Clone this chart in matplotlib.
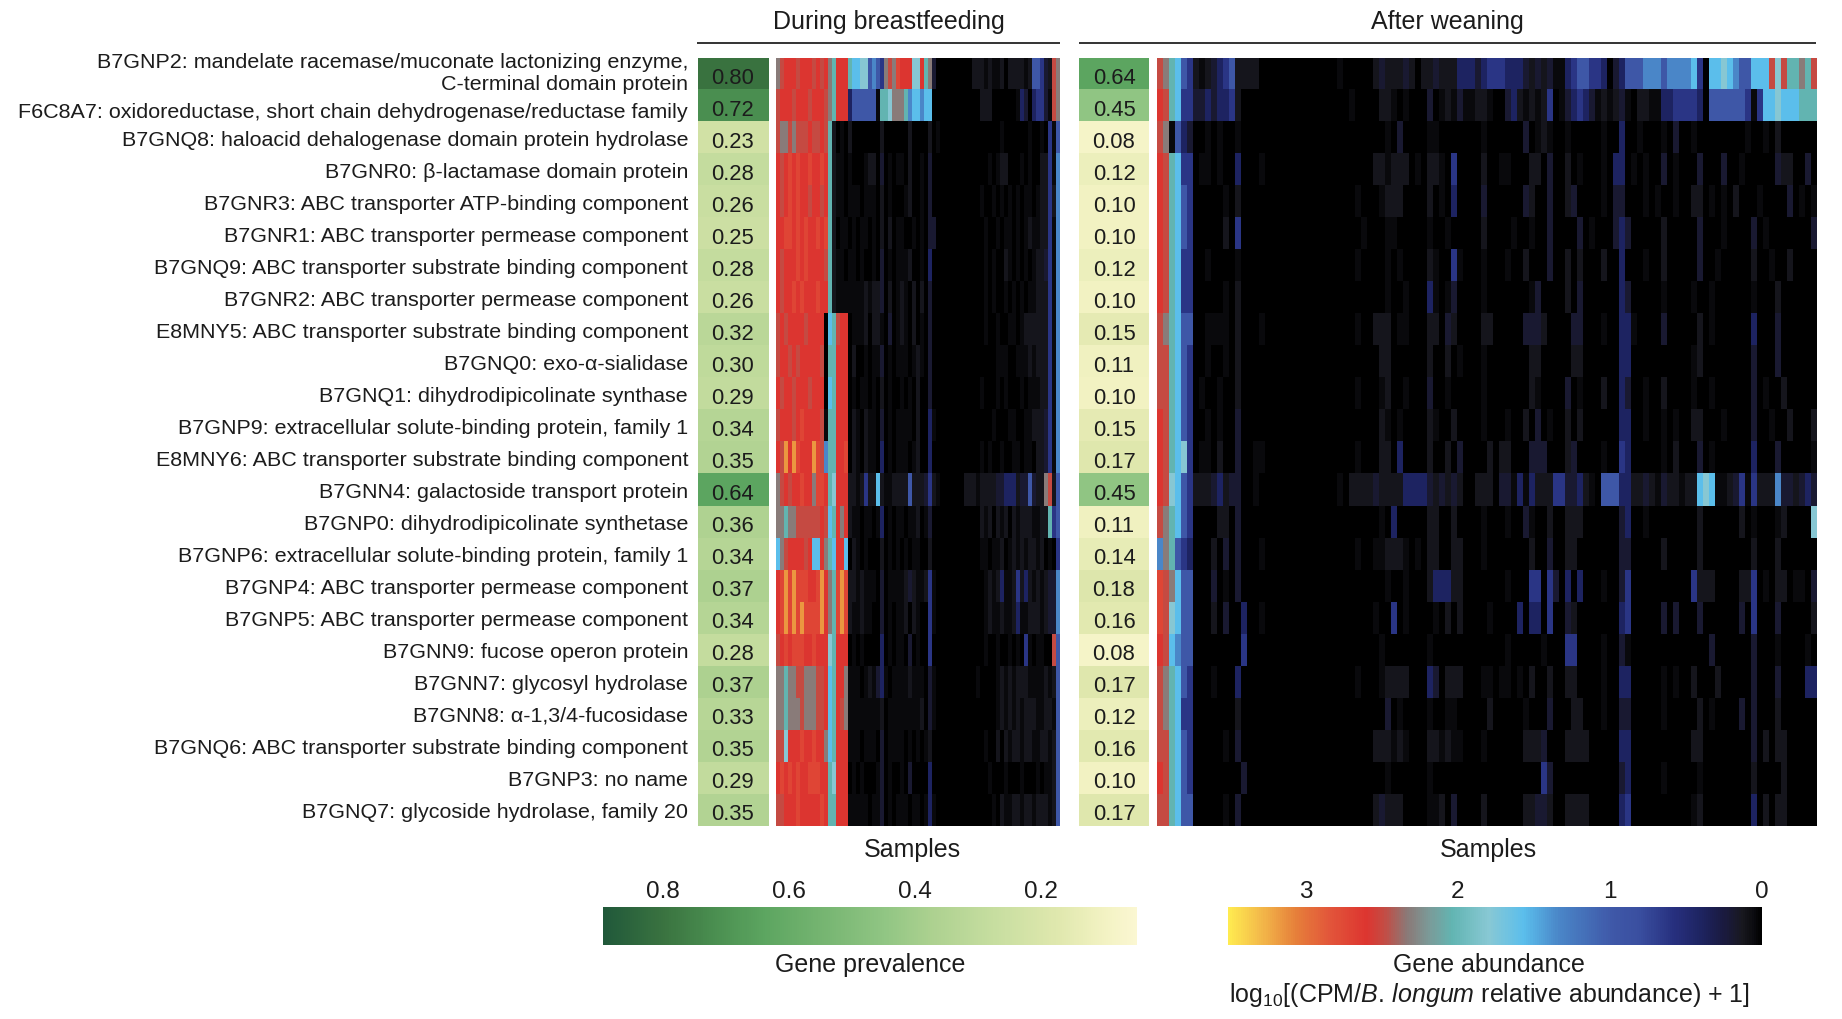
import numpy as np
import matplotlib
matplotlib.use("Agg")
import matplotlib.pyplot as plt
from matplotlib.colors import LinearSegmentedColormap, Normalize
from matplotlib.cm import ScalarMappable

plt.rcParams['font.family'] = ['Liberation Sans', 'DejaVu Sans']
plt.rcParams['mathtext.fontset'] = 'custom'
plt.rcParams['mathtext.rm'] = 'Liberation Sans'
plt.rcParams['mathtext.it'] = 'Liberation Sans:italic'

# ---------- data ----------
gene_labels = [
    "B7GNP2: mandelate racemase/muconate lactonizing enzyme,\nC-terminal domain protein",
    "F6C8A7: oxidoreductase, short chain dehydrogenase/reductase family",
    "B7GNQ8: haloacid dehalogenase domain protein hydrolase",
    "B7GNR0: β-lactamase domain protein",
    "B7GNR3: ABC transporter ATP-binding component",
    "B7GNR1: ABC transporter permease component",
    "B7GNQ9: ABC transporter substrate binding component",
    "B7GNR2: ABC transporter permease component",
    "E8MNY5: ABC transporter substrate binding component",
    "B7GNQ0: exo-α-sialidase",
    "B7GNQ1: dihydrodipicolinate synthase",
    "B7GNP9: extracellular solute-binding protein, family 1",
    "E8MNY6: ABC transporter substrate binding component",
    "B7GNN4: galactoside transport protein",
    "B7GNP0: dihydrodipicolinate synthetase",
    "B7GNP6: extracellular solute-binding protein, family 1",
    "B7GNP4: ABC transporter permease component",
    "B7GNP5: ABC transporter permease component",
    "B7GNN9: fucose operon protein",
    "B7GNN7: glycosyl hydrolase",
    "B7GNN8: α-1,3/4-fucosidase",
    "B7GNQ6: ABC transporter substrate binding component",
    "B7GNP3: no name",
    "B7GNQ7: glycoside hydrolase, family 20",
]
prevalence_during = [0.80, 0.72, 0.23, 0.28, 0.26, 0.25, 0.28, 0.26, 0.32, 0.30, 0.29, 0.34,
                     0.35, 0.64, 0.36, 0.34, 0.37, 0.34, 0.28, 0.37, 0.33, 0.35, 0.29, 0.35]
prevalence_after = [0.64, 0.45, 0.08, 0.12, 0.10, 0.10, 0.12, 0.10, 0.15, 0.11, 0.10, 0.15,
                    0.17, 0.45, 0.11, 0.14, 0.18, 0.16, 0.08, 0.17, 0.12, 0.16, 0.10, 0.17]

# abundance, one character per sample, binned to these levels
abundance_levels = {'0': 0.0, '1': 0.05, '2': 0.11, '3': 0.20, '4': 0.40, '5': 0.63, '6': 0.98,
                    '7': 1.33, '8': 1.57, '9': 1.80, 'a': 2.04, 'b': 2.33, 'c': 2.49, 'd': 2.60,
                    'e': 2.72, 'f': 3.16}

during_rows = [
    "bcdddcdddc dcdbaddda8 8996765bcb eddd99dab3 0000000002 2212112022 221266532c b",
    "cdddcdddcd ddcbaddd46 666661aa9b bba7887880 0000000000 0222000000 143045531c b",
    "cbbcbcccdc cdca201020 0000002000 0002000020 1000000000 0000001000 0001001051 6",
    "dcdededded deda211010 0012203010 1102001030 0000000000 0001012200 0101002251 7",
    "dcdededdcd dcda211011 1011102010 0012001030 0000000000 0100101010 1011012252 7",
    "ddeedededd edea201101 0110102020 1100101033 0000000000 0010010110 1012112251 7",
    "dcdddededd ddca211011 0100103010 1112001040 0000000000 0010100210 1010122351 7",
    "dcddededdd edda211111 1121223020 1210202030 0000000000 0010100101 0101122251 7",
    "cdcddddcdd dd08acdd01 1120221030 1210201030 0000000000 0010010011 0122222251 7",
    "cddcdcdddd dc0aaddd02 0010113010 1110121030 0000000000 0000011100 1112122251 7",
    "dcddcdddcd dd08addd01 0110102010 0101020030 0000000000 0100010100 0101112251 7",
    "cdddcdeddd dc1aaddd02 1021103010 1111020041 0000000000 0000100011 0011222351 7",
    "dcfdfedddf ec7aadde02 1021104010 1110120040 0000000000 0101001001 1011022351 7",
    "bcdcddeddb eeda9ddd22 1252282112 2226222352 1000000222 1222233444 2336322bc2 6",
    "bbabbccccc cdc8adbd21 1011014010 1101120130 0000000000 0212021202 12221122a5 6",
    "8bcddddcd8 8dba8dd802 1010002010 1010110020 0000000000 0110112012 1212212010 5",
    "defefeeedd efdbaefe22 1211103011 1123211251 0000000000 0012124112 5242121233 7",
    "defefefeee efdbaefe21 1211003010 1120210051 0000000000 0012112112 4112221233 7",
    "cdedeeedde ddd9addd01 0100004010 1103010050 0000000000 0010010010 105101100c 6",
    "bbabbccbbb ccd8addb11 1012134101 1112111031 0000000000 1000012121 2221111212 6",
    "bbabbbcbbb ccd8adcb11 1111112011 1111112031 0000000000 0000012121 2122211221 6",
    "cc9dddedde ddb8addd11 1011103011 1101010120 0000000000 0010020212 2122112212 6",
    "dedededdee edda9ddd01 0100013010 0103000040 0000000000 0001000100 0100010112 6",
    "ccdddedddd dedaaddd11 1110113010 1110110141 0000000000 0000102112 2122122212 6",
]

after_rows = [
    "cba8652123 4562222000 0000000000 1000002322 2320223222 4443455544 4323231145 6655403466 6777677778 5088987668 88c9caabac",
    "dca8553343 4452000000 0000000000 0010000221 0100030121 3112210034 2121250134 5431212310 2211445555 4066666651 5889888aaa",
    "cb16430010 1001000000 0000000000 0000000010 3000011000 0000100000 0301210010 0000100400 1000103001 0000000010 0102000000",
    "dca8550110 1004000100 0000000000 0000002212 2201022105 0000200110 0022030020 1000104401 0100301000 3000300100 0003220030",
    "dca8650000 0102000000 0000000000 0001000122 2000020104 0000300000 0320030023 0000103300 0101001002 2010102000 1000030101",
    "dca8650000 0205000000 0000000000 0000100011 0000010010 0000200001 0010030000 3010003430 0000200000 3000100003 0100000003",
    "dca8550010 0001000000 0000000000 0001000010 1000021005 1000100010 0200030020 2000200400 0100200000 3001000002 0010020000",
    "dca8550000 0102000000 0000000000 0000000010 0100041013 0000100000 0013000020 3000000430 0000100001 0010000001 0002000000",
    "cba8660011 1102000100 0000000000 0001002220 1100022032 0000220000 0333200003 3000100441 0000300000 2010000004 0003000000",
    "cca8650010 0102000000 0000000000 0000000220 0000020020 1000100000 0022000002 2000000440 0000000001 2000000003 0003000000",
    "cca8650100 1002000000 0000000000 0001000120 0100030010 0000100000 0021000030 1000200430 0100200001 0010000003 0100200000",
    "dca8650010 1003000000 0000000000 0000000210 1000021002 0000100010 0203010020 2000000440 0100101002 2000100003 0010020002",
    "dca8950110 2003001100 0000000000 0001000220 4000020020 3000020220 0033300023 0000100540 0000102000 3010000004 0003000001",
    "dc98652223 4233001000 0000000000 1022223222 2444432323 2002220331 4142225533 4210666442 2321322122 8981123515 2227332343",
    "cba8650000 2203000000 0000000000 0000000104 0000022002 0000100010 0310020022 2000000340 0100000000 2000000201 0001200009",
    "7ba6540002 0303000100 0000000000 0001001122 2101022002 2000100000 0020030022 0000000330 0000200000 2000000002 0002000000",
    "ecb8660003 0103000000 0000000000 0000000010 0100024442 2000000010 0055053040 4000100350 0000000005 2220000225 0102201103",
    "ec98660002 0300400100 0000000000 0000001005 0100001020 2000010000 4044050032 0000000450 0000303000 3000000305 0003000002",
    "dc87660000 0000500000 0000000000 0000000100 0000010000 0000000010 0000100055 0000100310 0000000000 0030000003 0001000010",
    "cba8650001 0004000000 0000000000 0001000122 2200043022 2000110110 1020020022 0000100440 0000101002 0002000003 0003000044",
    "cba8550000 0002000000 0000000000 0000000030 1000010011 0000020000 0100030002 2000100330 0000100000 2010000303 0002000000",
    "cca8650000 0103000000 0000000000 0000002221 2100022121 1000100000 0222300022 2200000440 0000000002 2000000003 0202200000",
    "dca8650000 0000300000 0000000000 0000000010 0000010000 0000000000 0000530000 0000000340 0000100000 1000000002 0000200000",
    "cca8660000 0103000000 0000000000 0000002322 2000011203 0000200000 0223320022 2200000450 0000000001 2000000004 0202200000",
]

prevalence_ticks = [0.8, 0.6, 0.4, 0.2]
abundance_ticks = [3, 2, 1, 0]
panel_titles = ["During breastfeeding", "After weaning"]

# ---------- colour scales ----------
abundance_cmap = LinearSegmentedColormap.from_list("abundance", [
    (0.000, "#FFEB50"), (0.060, "#F3B94A"), (0.126, "#E67F3A"), (0.190, "#E2553A"),
    (0.258, "#DD3530"), (0.290, "#C64A42"), (0.336, "#8A7A78"), (0.376, "#7B9A98"),
    (0.420, "#62B5B2"), (0.488, "#88C8D4"), (0.554, "#5BBEEC"), (0.620, "#4A86C8"),
    (0.720, "#3F58A8"), (0.770, "#3A4FA0"), (0.836, "#27307F"), (0.885, "#1E2462"),
    (0.930, "#1A1A40"), (0.965, "#18181F"), (0.985, "#0C0C10"), (1.000, "#000000"),
]).reversed()
abundance_norm = Normalize(0, 3.51)

prevalence_span = (0.047, 0.896)
prevalence_stops = [(0.047, "#FBF7D2"), (0.10, "#F2F2C2"), (0.17, "#E0E8AE"), (0.28, "#C5DD9F"),
                    (0.37, "#ADD190"), (0.45, "#90C583"), (0.64, "#5CA560"), (0.72, "#4A8E50"),
                    (0.80, "#3A7340"), (0.896, "#20583A")]
prevalence_norm = Normalize(*prevalence_span)
prevalence_cmap = LinearSegmentedColormap.from_list(
    "prevalence", [(float(prevalence_norm(v)), c) for v, c in prevalence_stops])

# ---------- layout ----------
W, H = 1842, 1020
fig = plt.figure(figsize=(W / 100, H / 100), dpi=100, facecolor="white")


def axes_px(x0, y0, x1, y1):
    return fig.add_axes([x0 / W, 1 - y1 / H, (x1 - x0) / W, (y1 - y0) / H])


TOP, BOTTOM = 58.5, 827.0
row_h = (BOTTOM - TOP) / len(gene_labels)
TXT = "#1c1c1c"
LABEL_FS = 15.45

bg = axes_px(0, 0, W, H)
bg.set_xlim(0, W)
bg.set_ylim(H, 0)
bg.axis("off")


def decode(rows):
    return np.array([[abundance_levels[c] for c in r.replace(" ", "")] for r in rows])


def heat(x0, x1, rows):
    a = axes_px(x0, TOP, x1, BOTTOM)
    a.imshow(decode(rows), cmap=abundance_cmap, norm=abundance_norm,
             aspect="auto", interpolation="nearest")
    a.axis("off")


def prev(x0, x1, vals):
    a = axes_px(x0, TOP, x1, BOTTOM)
    arr = np.array(vals).reshape(-1, 1)
    a.imshow(arr, cmap=prevalence_cmap, norm=prevalence_norm, aspect="auto", interpolation="nearest")
    a.axis("off")
    for i, v in enumerate(vals):
        a.text(0, i + 0.12, f"{v:.2f}", ha="center", va="center", fontsize=15.8, color=TXT)


prev(697.5, 768, prevalence_during)
heat(776, 1059, during_rows)
prev(1079, 1149, prevalence_after)
heat(1157, 1816, after_rows)

# row labels
for i, lab in enumerate(gene_labels):
    y = TOP + (i + 0.5) * row_h + 1.5
    if i == 0:
        l1, l2 = lab.split("\n")
        bg.text(688, 63, l1, ha="right", va="center", fontsize=LABEL_FS, color=TXT)
        bg.text(688, 85, l2, ha="right", va="center", fontsize=LABEL_FS, color=TXT)
    elif i == 1:
        bg.text(688, 113, lab, ha="right", va="center", fontsize=LABEL_FS, color=TXT)
    else:
        bg.text(688, y, lab, ha="right", va="center", fontsize=LABEL_FS, color=TXT)

# headers
bg.plot([697, 1060], [44, 44], color="#333333", lw=1.4, solid_capstyle="butt")
bg.plot([1079, 1816], [44, 44], color="#333333", lw=1.4, solid_capstyle="butt")
bg.text(889, 21.5, panel_titles[0], ha="center", va="center", fontsize=18, color=TXT)
bg.text(1447, 21.5, panel_titles[1], ha="center", va="center", fontsize=18, color=TXT)
bg.text(912, 850, "Samples", ha="center", va="center", fontsize=18, color=TXT)
bg.text(1488, 850, "Samples", ha="center", va="center", fontsize=18, color=TXT)

# colour bars
cax1 = axes_px(602.5, 908, 1137, 946)
cb1 = fig.colorbar(ScalarMappable(norm=prevalence_norm, cmap=prevalence_cmap), cax=cax1,
                   orientation="horizontal", ticks=prevalence_ticks)
cax1.invert_xaxis()
cax2 = axes_px(1228, 908, 1762, 946)
cb2 = fig.colorbar(ScalarMappable(norm=abundance_norm, cmap=abundance_cmap), cax=cax2,
                   orientation="horizontal", ticks=abundance_ticks)
cax2.invert_xaxis()
for cb, cax in ((cb1, cax1), (cb2, cax2)):
    cb.outline.set_visible(False)
    cax.xaxis.set_ticks_position("top")
    cax.tick_params(axis="x", length=0, pad=3.5, labelsize=17.5, labelcolor=TXT)
cb1.ax.set_xticklabels(["0.8", "0.6", "0.4", "0.2"])
cb2.ax.set_xticklabels(["3", "2", "1", "0"])

bg.text(870.5, 965, "Gene prevalence", ha="center", va="center", fontsize=18, color=TXT)
bg.text(1489, 965, "Gene abundance", ha="center", va="center", fontsize=18, color=TXT)
bg.text(1489, 995, r"log$_{10}$[(CPM/$\mathit{B.\,longum}$ relative abundance) + 1]",
        ha="center", va="center", fontsize=18, color=TXT)

fig.savefig("out.png", dpi=100, facecolor="white")
